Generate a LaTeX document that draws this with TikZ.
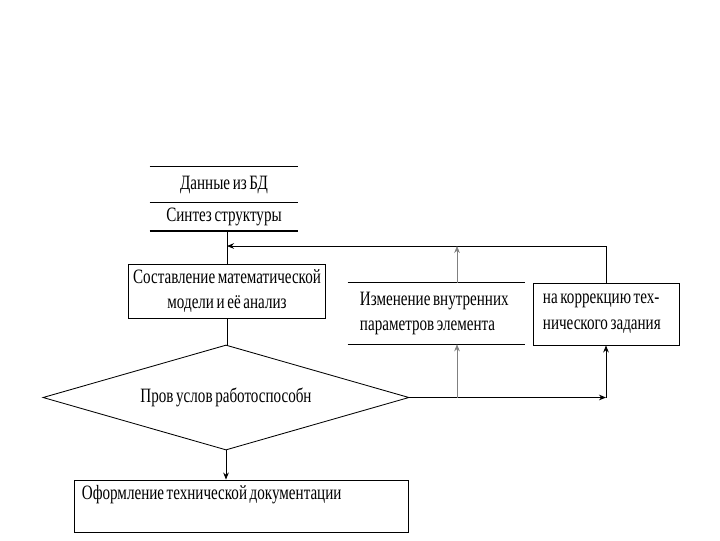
\documentclass[tikz,border=0pt]{standalone}
\usepackage{fontspec}
\setmainfont{Liberation Serif}[FakeStretch=0.74,WordSpace={0.7,0,0}]
\usetikzlibrary{shapes.geometric,arrows.meta}

\begin{document}
\begin{tikzpicture}[x=0.025cm,y=-0.025cm,line join=miter,>={Stealth[length=5pt,width=4pt]},
  every node/.style={inner sep=1pt,font=\fontsize{14.5}{18.4}\selectfont},
  box/.style={draw,line width=0.6pt,align=center},
  lined/.style={minimum width=3.7cm},
  fb/.style={gray,line width=0.4pt}]
  \useasboundingbox (0,0) rectangle (720,540);
  % data store
  \node[lined,minimum height=0.875cm] (bd) at (224,184.5) {Данные из БД};
  \node[lined,minimum height=0.725cm] (syn) at (224,216.5) {Синтез структуры};
  \draw[line width=0.6pt] (bd.north west) -- (bd.north east);
  \draw[line width=0.6pt] (bd.south west) -- (bd.south east);
  \draw[line width=1.2pt] (syn.south west) -- (syn.south east);
  % main blocks
  \node[box,minimum width=4.925cm,minimum height=1.35cm] (model) at (227,291)
    {Составление математической\\модели и её анализ};
  \node[draw,diamond,aspect=3.5,line width=0.6pt,inner sep=0pt,minimum width=9.15cm,minimum height=2.625cm] (dia) at (226,397.5)
    {Пров услов работоспособн};
  \node[box,minimum width=8.35cm,inner sep=0pt,text width=7.95cm,align=flush left,text height=0.475cm,text depth=0.825cm] (doc) at (241,506)
    {Оформление технической документации};
  % correction blocks
  \node[minimum width=4.425cm,minimum height=1.525cm,text width=3.825cm,align=flush left] (izm) at (436.5,313.5)
    {Изменение внутренних\\параметров элемента};
  \draw[line width=0.6pt] (izm.north west) -- (izm.north east);
  \draw[line width=0.6pt] (izm.south west) -- (izm.south east);
  \node[box,minimum width=3.65cm,minimum height=1.55cm,text width=3.15cm,align=flush left] (korr) at (606,314)
    {на коррекцию тех-\\нического задания};
  % connectors
  \coordinate (ret) at (227,246);
  \coordinate (up) at (457,397.5);
  \coordinate (jn) at (korr.south |- dia.east);
  \draw[line width=0.6pt] (ret |- syn.south) -- (model.north);
  \draw[->,line width=0.6pt] (korr.north) |- (ret);
  \draw[->,fb] (up |- izm.north) -- (up |- ret);
  \draw[line width=0.6pt] (model.south) -- (model.south |- dia.north);
  \draw[->,line width=0.6pt] (dia.east) -- (jn);
  \draw[->,line width=0.6pt] (jn) -- (korr.south);
  \draw[->,fb] (up) -- (up |- izm.south);
  \draw[->,line width=0.6pt] (dia.south) -- (dia.south |- doc.north);
\end{tikzpicture}
\end{document}
